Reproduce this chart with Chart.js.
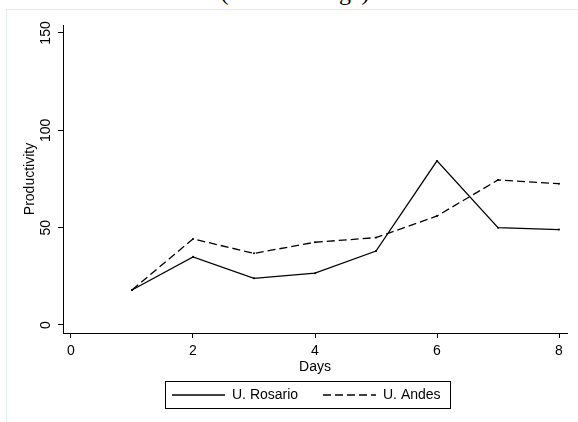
<!DOCTYPE html>
<html>
<head>
<meta charset="utf-8">
<script src="https://cdn.jsdelivr.net/npm/chart.js@4.4.0/dist/chart.umd.min.js"></script>
<style>
    html, body { margin: 0; padding: 0; background: #fff; }
    #wrap { position: relative; width: 578px; height: 422px; overflow: hidden; }
    #frame { position: absolute; left: 6px; top: 9px; width: 600px; height: 440px;
             border-top: 1px solid #e4ecec; border-left: 1px solid #e4ecec; }
    #subtitle { position: absolute; left: 0; width: 590px; top: -21px; text-align: center;
                font-family: "Liberation Serif", "DejaVu Serif", serif; font-size: 24px; color: #000; }
    canvas { position: absolute; left: 0; top: 0; }
</style>
</head>
<body>
<div id="wrap">
    <div id="frame"></div>
    <div id="subtitle">(Total Average)</div>
    <canvas id="productivityChart" width="578" height="422"></canvas>
</div>

<script>

const days = [1, 2, 3, 4, 5, 6, 7, 8];
const rosario = [18, 35, 24, 26.6, 38, 84.3, 50, 49];
const andes = [18, 44.2, 36.8, 42.5, 44.9, 56, 74.5, 72.6];

const xTicks = [0, 2, 4, 6, 8];
const yTicks = [0, 50, 100, 150];

const FONT = "'Liberation Sans', Arial, Helvetica, sans-serif";

function toPoints(values) {
    return days.map((d, i) => ({ x: d, y: values[i] }));
}

// y tick labels (rotated), y title and the framed legend, Stata style
const stataExtras = {

    id: "stataExtras",

    afterDraw(chart) {

        const ctx = chart.ctx;
        const yScale = chart.scales.y;
        const area = chart.chartArea;

        ctx.save();
        ctx.fillStyle = "#000";
        ctx.font = "14px " + FONT;
        ctx.textAlign = "center";
        ctx.textBaseline = "middle";

        yTicks.forEach(v => {
            const py = yScale.getPixelForValue(v);
            ctx.save();
            ctx.translate(46, py);
            ctx.rotate(-Math.PI / 2);
            ctx.fillText(String(v), 0, 0);
            ctx.restore();
        });

        ctx.save();
        ctx.translate(30, (area.top + area.bottom) / 2);
        ctx.rotate(-Math.PI / 2);
        ctx.fillText("Productivity", 0, 0);
        ctx.restore();

        // legend
        const box = { left: 165.5, top: 381.5, right: 450.5, bottom: 408.5 };
        ctx.strokeStyle = "#000";
        ctx.lineWidth = 1;
        ctx.strokeRect(box.left, box.top, box.right - box.left, box.bottom - box.top);

        const midY = (box.top + box.bottom) / 2;
        const items = [
            { x: 172, ds: chart.data.datasets[0] },
            { x: 323, ds: chart.data.datasets[1] }
        ];

        ctx.textAlign = "left";
        items.forEach(item => {
            ctx.beginPath();
            ctx.setLineDash(item.ds.borderDash || []);
            ctx.lineWidth = item.ds.borderWidth;
            ctx.moveTo(item.x, midY);
            ctx.lineTo(item.x + 53, midY);
            ctx.stroke();
            ctx.setLineDash([]);
            ctx.fillText(item.ds.label, item.x + 60, midY);
        });

        ctx.restore();

    }

};

const ctx = document.getElementById("productivityChart").getContext("2d");

new Chart(ctx, {

    type: "line",

    data: {
        datasets: [
            {
                label: "U. Rosario",
                data: toPoints(rosario),
                borderColor: "#000",
                backgroundColor: "#000",
                borderWidth: 1.3,
                pointRadius: 1,
                pointBorderWidth: 0,
                tension: 0
            },
            {
                label: "U. Andes",
                data: toPoints(andes),
                borderColor: "#000",
                backgroundColor: "#000",
                borderWidth: 1.3,
                borderDash: [8, 4],
                pointRadius: 1,
                pointBorderWidth: 0,
                tension: 0
            }
        ]
    },

    options: {

        responsive: false,
        animation: false,
        devicePixelRatio: 1,

        layout: {
            padding: { top: 25, right: 11, bottom: 46, left: 0 }
        },

        plugins: {
            legend: { display: false },
            tooltip: { enabled: false }
        },

        scales: {

            x: {
                type: "linear",
                min: -0.131,
                max: 8.131,
                afterBuildTicks: scale => { scale.ticks = xTicks.map(v => ({ value: v })); },
                afterFit: scale => { scale.height = 43; },
                grid: { drawOnChartArea: false, tickLength: 5, color: "#000" },
                border: { color: "#000", width: 1 },
                ticks: {
                    color: "#000",
                    padding: 5,
                    font: { family: FONT, size: 14 },
                    maxRotation: 0
                },
                title: {
                    display: true,
                    text: "Days",
                    color: "#000",
                    padding: 0,
                    font: { family: FONT, size: 14 }
                }
            },

            y: {
                min: -4.11,
                max: 154.1,
                afterBuildTicks: scale => { scale.ticks = yTicks.map(v => ({ value: v })); },
                afterFit: scale => { scale.width = 63; },
                grid: { drawOnChartArea: false, tickLength: 5, color: "#000" },
                border: { color: "#000", width: 1 },
                ticks: { display: false }
            }

        }

    },

    plugins: [stataExtras]

});

</script>
</body>
</html>
